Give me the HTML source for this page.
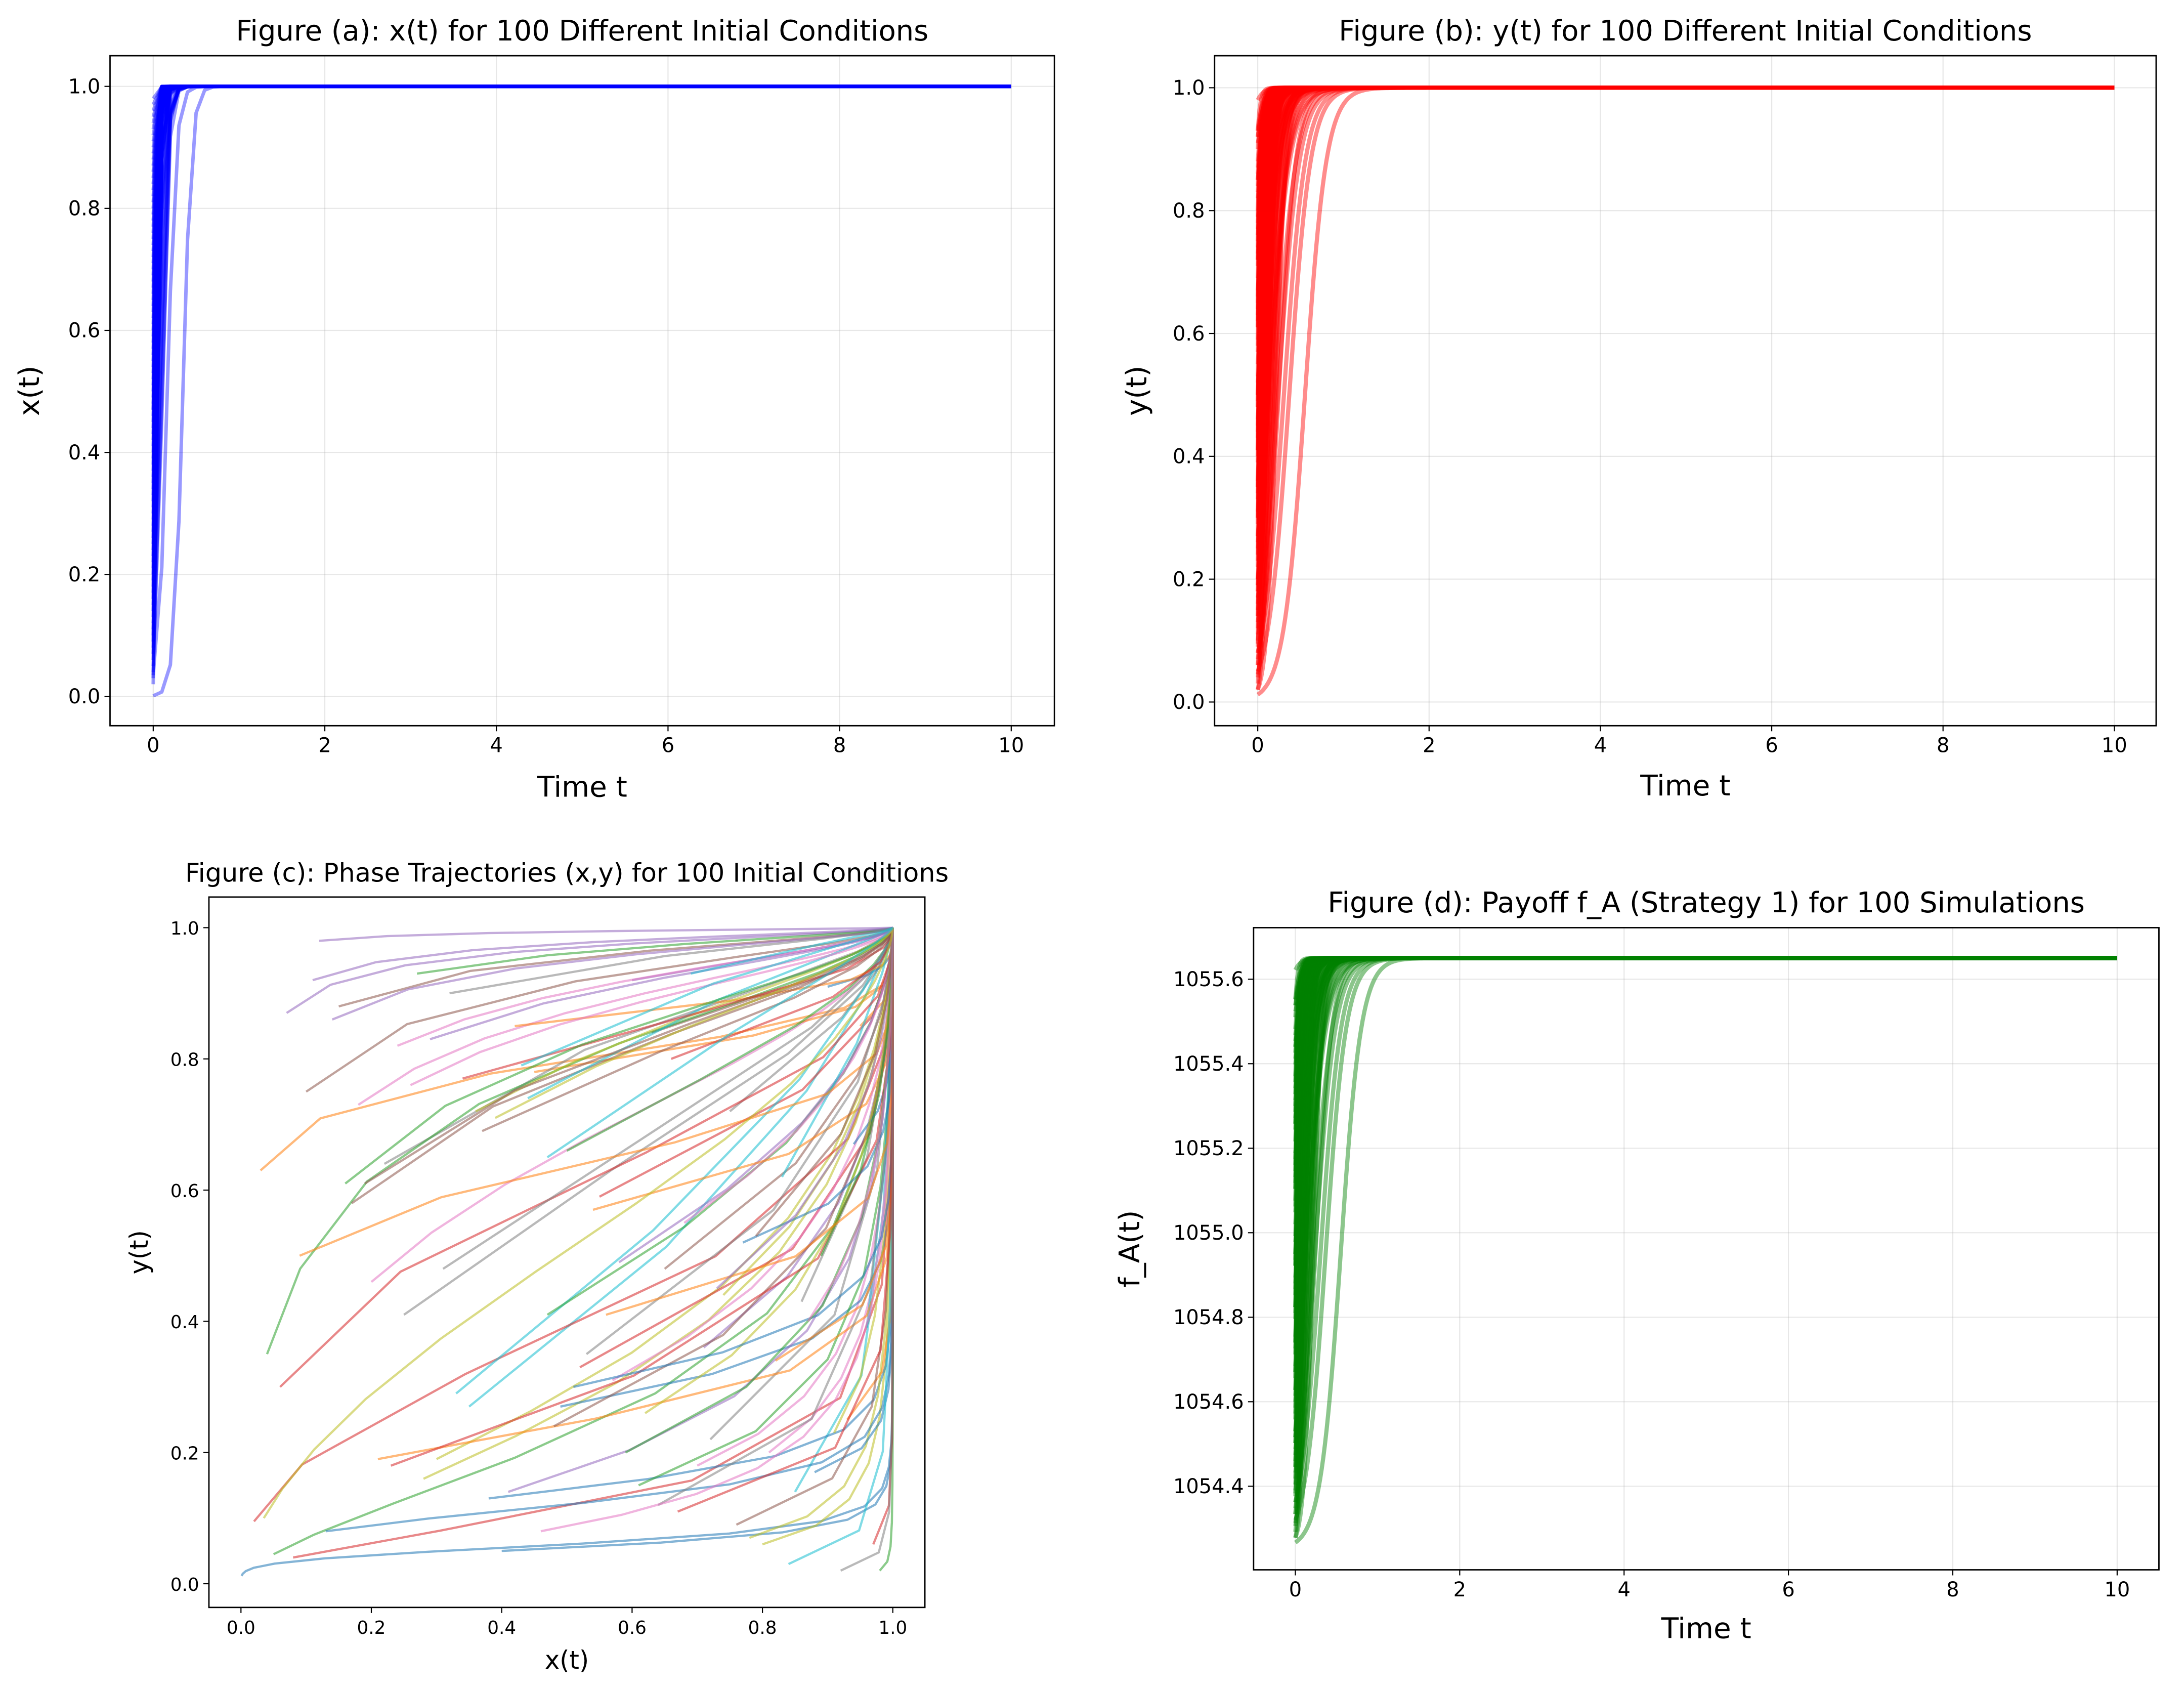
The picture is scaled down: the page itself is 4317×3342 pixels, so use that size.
<!DOCTYPE html>
<html><head><meta charset="utf-8"><style>
html,body{margin:0;padding:0;background:#fff}
svg{display:block}
text{font-family:"DejaVu Sans","Liberation Sans",sans-serif;fill:#000}
</style></head><body>
<svg id="fig" width="4317" height="3342" viewBox="0 0 1568 1214" preserveAspectRatio="none" xmlns="http://www.w3.org/2000/svg">
<rect x="0" y="0" width="1568" height="1214" fill="#fff"/>
</svg>
<script>
// ---- data ----
const x0s=[0.001,0.03,0.05,0.08,0.12,0.15,0.2,0.25,0.3,0.35,0.4,0.45,0.5,0.55,0.6,0.65,0.7,0.75,0.8,0.85,0.9,0.95,0.98,0.02,0.07,0.1,0.18,0.22,0.28,0.33,
0.38,0.42,0.47,0.52,0.58,0.63,0.68,0.72,0.78,0.83,0.88,0.93,0.04,0.06,0.14,0.17,0.24,0.31,0.36,0.44,0.49,0.54,0.61,0.66,0.71,0.76,0.81,0.86,0.91,0.96,
0.13,0.21,0.27,0.34,0.41,0.48,0.57,0.64,0.74,0.84,0.94,0.09,0.16,0.23,0.29,0.37,0.46,0.53,0.62,0.69,0.77,0.82,0.89,0.97,0.11,0.19,0.26,0.32,0.39,0.43,
0.51,0.56,0.59,0.67,0.73,0.79,0.87,0.92,0.035,0.47];
const y0s=[0.012,0.63,0.045,0.04,0.98,0.88,0.46,0.41,0.19,0.27,0.05,0.78,0.66,0.59,0.92,0.48,0.18,0.72,0.06,0.14,0.91,0.85,0.02,0.095,0.87,0.75,0.73,0.64,0.16,0.29,
0.13,0.85,0.41,0.33,0.49,0.84,0.55,0.22,0.07,0.62,0.17,0.25,0.35,0.3,0.86,0.58,0.82,0.48,0.72,0.74,0.27,0.57,0.15,0.8,0.36,0.09,0.2,0.43,0.23,0.39,
0.08,0.19,0.93,0.77,0.14,0.24,0.31,0.12,0.44,0.03,0.67,0.5,0.61,0.18,0.83,0.69,0.08,0.35,0.26,0.93,0.52,0.34,0.5,0.06,0.92,0.61,0.76,0.9,0.71,0.79,
0.3,0.41,0.2,0.11,0.45,0.53,0.4,0.02,0.1,0.65];
const kxRates=[40,55,30,60,25,45,35,50,20,65];
const kyRates=[8,12,18,25,15,22,10,30,14,35];
const xTicksT=[0,2,4,6,8,10];
const yTicksUnit=[0.0,0.2,0.4,0.6,0.8,1.0];
const yTicksFA=[1054.4,1054.6,1054.8,1055.0,1055.2,1055.4,1055.6];
const tab10=['#1f77b4','#ff7f0e','#2ca02c','#d62728','#9467bd','#8c564b','#e377c2','#7f7f7f','#bcbd22','#17becf'];

const svg=document.getElementById('fig');
const NS='http://www.w3.org/2000/svg';
function el(tag,attrs,parent){const e=document.createElementNS(NS,tag);for(const k in attrs)e.setAttribute(k,attrs[k]);(parent||svg).appendChild(e);return e;}
function logi(v0,k,t){return 1/(1+((1-v0)/v0)*Math.exp(-k*t));}

function panel(o){
  const g=el('g',{});
  
  
  const sx=v=>o.px0+(v-o.x0)*(o.px1-o.px0)/(o.x1-o.x0);
  const sy=v=>o.py0+(v-o.y0)*(o.py1-o.py0)/(o.y1-o.y0);
  if(o.grid){
    o.xt.forEach(v=>{const l=el('line',{x1:sx(v),x2:sx(v),y1:o.top,y2:o.bot,stroke:'#b0b0b0','stroke-opacity':0.3,'stroke-width':0.8},g);});
    o.yt.forEach(v=>{const l=el('line',{x1:o.left,x2:o.right,y1:sy(v),y2:sy(v),stroke:'#b0b0b0','stroke-opacity':0.3,'stroke-width':0.8},g);});
  }
  const clip='c'+o.name;
  const cp=el('clipPath',{id:clip},g);el('rect',{x:o.left,y:o.top,width:o.right-o.left,height:o.bot-o.top},cp);
  const series=el('g',{'clip-path':'url(#'+clip+')'},g);
  
  
  o.draw(series,sx,sy);
  const fr=el('rect',{x:o.left,y:o.top,width:o.right-o.left,height:o.bot-o.top,fill:'none',stroke:'#000','stroke-width':1},g);
  
  o.xt.forEach(v=>{el('line',{x1:sx(v),x2:sx(v),y1:o.bot,y2:o.bot+4,stroke:'#000','stroke-width':0.8},g);
    const t=el('text',{x:sx(v),y:o.bot+19,'font-size':o.tf,'text-anchor':'middle'},g);t.textContent=o.fmtX(v);
    });
  o.yt.forEach(v=>{el('line',{x1:o.left-4,x2:o.left,y1:sy(v),y2:sy(v),stroke:'#000','stroke-width':0.8},g);
    const t=el('text',{x:o.left-7,y:sy(v)+5,'font-size':o.tf,'text-anchor':'end'},g);t.textContent=o.fmtY(v);
    });
  const ti=el('text',{x:(o.left+o.right)/2,y:o.top-11,'font-size':o.titf,'text-anchor':'middle'},g);ti.textContent=o.title;
  
  const xl=el('text',{x:(o.left+o.right)/2,y:o.xly,'font-size':o.lf,'text-anchor':'middle'},g);xl.textContent=o.xl;
  
  const yl=el('text',{x:o.ylx,y:(o.top+o.bot)/2,'font-size':o.lf,'text-anchor':'middle',transform:'rotate(-90 '+o.ylx+' '+(o.top+o.bot)/2+')'},g);yl.textContent=o.yl;
  
}
function poly(g,pts,color,op,w,name){
  const p=el('polyline',{points:pts.map(q=>q[0].toFixed(2)+','+q[1].toFixed(2)).join(' '),fill:'none',stroke:color,'stroke-opacity':op,'stroke-width':w,'stroke-linejoin':'round'},g);
  
}
const f1=v=>v.toFixed(1), f0=v=>String(v);

// (a)
panel({name:'panel-a-xt',left:79,right:757,top:40,bot:521,x0:0,x1:10,px0:110,px1:726,y0:0,y1:1,py0:500,py1:62,
  xt:xTicksT,yt:yTicksUnit,fmtX:f0,fmtY:f1,grid:true,tf:14.5,titf:20.3,lf:20.5,title:'Figure (a): x(t) for 100 Different Initial Conditions',
  xl:'Time t',xly:572,yl:'x(t)',ylx:28,
  draw:(g,sx,sy)=>{x0s.forEach((x0,i)=>{const k=kxRates[i%10]*(x0<0.01?0.5:1);const pts=[];for(let s=0;s<=100;s++){const t=s*0.1;pts.push([sx(t),sy(logi(x0,k,t))]);}poly(g,pts,'#0000ff',0.4,2.5,'x-trajectory');});}});
// (b)
panel({name:'panel-b-yt',left:872,right:1548,top:40,bot:521,x0:0,x1:10,px0:903,px1:1518,y0:0,y1:1,py0:504,py1:63,
  xt:xTicksT,yt:yTicksUnit,fmtX:f0,fmtY:f1,grid:true,tf:14.5,titf:20.3,lf:20.5,title:'Figure (b): y(t) for 100 Different Initial Conditions',
  xl:'Time t',xly:571,yl:'y(t)',ylx:823,
  draw:(g,sx,sy)=>{y0s.forEach((y0,i)=>{const k=kyRates[i%10];const pts=[];for(let s=0;s<=500;s++){const t=s*0.02;pts.push([sx(t),sy(logi(y0,k,t))]);}poly(g,pts,'#ff0000',0.45,3,'y-trajectory');});}});
// (c)
panel({name:'panel-c-phase',left:150,right:664,top:644,bot:1154,x0:0,x1:1,px0:173,px1:641,y0:0,y1:1,py0:1137,py1:666,
  xt:yTicksUnit,yt:yTicksUnit,fmtX:f1,fmtY:f1,grid:false,tf:13,titf:18.5,lf:18,title:'Figure (c): Phase Trajectories (x,y) for 100 Initial Conditions',
  xl:'x(t)',xly:1198,yl:'y(t)',ylx:106,
  draw:(g,sx,sy)=>{x0s.forEach((x0,i)=>{const kx=kxRates[(i*3)%10]*0.25,ky=kyRates[i%10]*0.3;const pts=[];for(let s=0;s<=40;s++){const t=s*0.1;pts.push([sx(logi(x0,kx,t)),sy(logi(y0s[i],ky,t))]);}poly(g,pts,tab10[i%10],0.55,1.6,'phase-trajectory');});}});
// (d)
panel({name:'panel-d-payoff',left:900,right:1550,top:666,bot:1127,x0:0,x1:10,px0:930,px1:1520,y0:1054.4,y1:1055.6,py0:1067,py1:703,
  xt:xTicksT,yt:yTicksFA,fmtX:f0,fmtY:f1,grid:true,tf:14.5,titf:20.3,lf:20.5,title:'Figure (d): Payoff f_A (Strategy 1) for 100 Simulations',
  xl:'Time t',xly:1176,yl:'f_A(t)',ylx:818,
  draw:(g,sx,sy)=>{y0s.forEach((y0,i)=>{const k=kyRates[i%10];const pts=[];for(let s=0;s<=500;s++){const t=s*0.02;pts.push([sx(t),sy(1054.25+1.4*logi(y0,k,t))]);}poly(g,pts,'#008000',0.45,3,'payoff-trajectory');});}});
</script>
</body></html>
